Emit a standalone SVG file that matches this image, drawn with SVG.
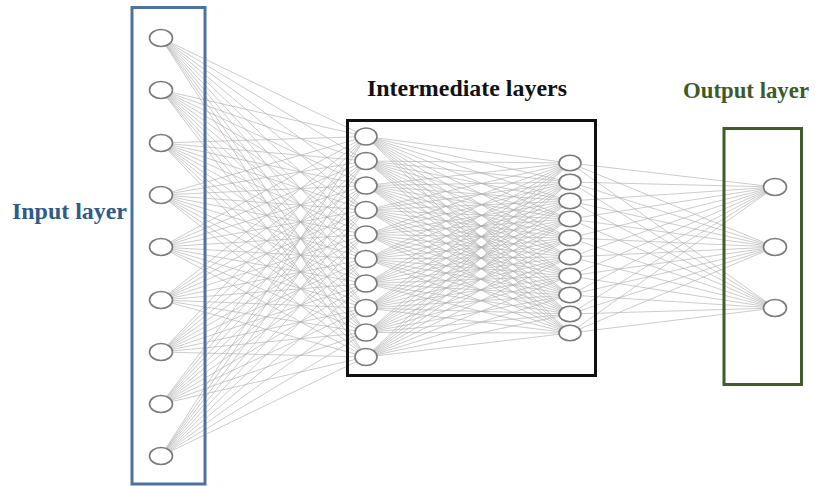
<svg xmlns="http://www.w3.org/2000/svg" width="817" height="486" viewBox="0 0 817 486">
<style>
.c{fill:none;stroke:#adadad;stroke-width:0.7;stroke-opacity:0.9}
.n{fill:#fff;stroke:#7a7a7a;stroke-width:1.6}
.t{font-family:"Liberation Serif","Times New Roman",serif;font-weight:bold;font-size:23px}
.box{fill:none;stroke-width:3}
</style>
<rect width="817" height="486" fill="#fff"/>
<g id="connectors">
<path class="c" d="M161 38L366 136.5M161 38L366 161M161 38L366 185.5M161 38L366 210M161 38L366 234.5M161 38L366 259M161 38L366 283.5M161 38L366 308M161 38L366 332.5M161 38L366 357"/>
<path class="c" d="M161 90L366 136.5M161 90L366 161M161 90L366 185.5M161 90L366 210M161 90L366 234.5M161 90L366 259M161 90L366 283.5M161 90L366 308M161 90L366 332.5M161 90L366 357"/>
<path class="c" d="M161 143L366 136.5M161 143L366 161M161 143L366 185.5M161 143L366 210M161 143L366 234.5M161 143L366 259M161 143L366 283.5M161 143L366 308M161 143L366 332.5M161 143L366 357"/>
<path class="c" d="M161 195L366 136.5M161 195L366 161M161 195L366 185.5M161 195L366 210M161 195L366 234.5M161 195L366 259M161 195L366 283.5M161 195L366 308M161 195L366 332.5M161 195L366 357"/>
<path class="c" d="M161 247L366 136.5M161 247L366 161M161 247L366 185.5M161 247L366 210M161 247L366 234.5M161 247L366 259M161 247L366 283.5M161 247L366 308M161 247L366 332.5M161 247L366 357"/>
<path class="c" d="M161 300L366 136.5M161 300L366 161M161 300L366 185.5M161 300L366 210M161 300L366 234.5M161 300L366 259M161 300L366 283.5M161 300L366 308M161 300L366 332.5M161 300L366 357"/>
<path class="c" d="M161 352L366 136.5M161 352L366 161M161 352L366 185.5M161 352L366 210M161 352L366 234.5M161 352L366 259M161 352L366 283.5M161 352L366 308M161 352L366 332.5M161 352L366 357"/>
<path class="c" d="M161 404L366 136.5M161 404L366 161M161 404L366 185.5M161 404L366 210M161 404L366 234.5M161 404L366 259M161 404L366 283.5M161 404L366 308M161 404L366 332.5M161 404L366 357"/>
<path class="c" d="M161 456L366 136.5M161 456L366 161M161 456L366 185.5M161 456L366 210M161 456L366 234.5M161 456L366 259M161 456L366 283.5M161 456L366 308M161 456L366 332.5M161 456L366 357"/>
<path class="c" d="M366 136.5L570 163M366 136.5L570 182M366 136.5L570 201M366 136.5L570 219M366 136.5L570 238M366 136.5L570 257M366 136.5L570 276M366 136.5L570 295M366 136.5L570 314M366 136.5L570 333"/>
<path class="c" d="M366 161L570 163M366 161L570 182M366 161L570 201M366 161L570 219M366 161L570 238M366 161L570 257M366 161L570 276M366 161L570 295M366 161L570 314M366 161L570 333"/>
<path class="c" d="M366 185.5L570 163M366 185.5L570 182M366 185.5L570 201M366 185.5L570 219M366 185.5L570 238M366 185.5L570 257M366 185.5L570 276M366 185.5L570 295M366 185.5L570 314M366 185.5L570 333"/>
<path class="c" d="M366 210L570 163M366 210L570 182M366 210L570 201M366 210L570 219M366 210L570 238M366 210L570 257M366 210L570 276M366 210L570 295M366 210L570 314M366 210L570 333"/>
<path class="c" d="M366 234.5L570 163M366 234.5L570 182M366 234.5L570 201M366 234.5L570 219M366 234.5L570 238M366 234.5L570 257M366 234.5L570 276M366 234.5L570 295M366 234.5L570 314M366 234.5L570 333"/>
<path class="c" d="M366 259L570 163M366 259L570 182M366 259L570 201M366 259L570 219M366 259L570 238M366 259L570 257M366 259L570 276M366 259L570 295M366 259L570 314M366 259L570 333"/>
<path class="c" d="M366 283.5L570 163M366 283.5L570 182M366 283.5L570 201M366 283.5L570 219M366 283.5L570 238M366 283.5L570 257M366 283.5L570 276M366 283.5L570 295M366 283.5L570 314M366 283.5L570 333"/>
<path class="c" d="M366 308L570 163M366 308L570 182M366 308L570 201M366 308L570 219M366 308L570 238M366 308L570 257M366 308L570 276M366 308L570 295M366 308L570 314M366 308L570 333"/>
<path class="c" d="M366 332.5L570 163M366 332.5L570 182M366 332.5L570 201M366 332.5L570 219M366 332.5L570 238M366 332.5L570 257M366 332.5L570 276M366 332.5L570 295M366 332.5L570 314M366 332.5L570 333"/>
<path class="c" d="M366 357L570 163M366 357L570 182M366 357L570 201M366 357L570 219M366 357L570 238M366 357L570 257M366 357L570 276M366 357L570 295M366 357L570 314M366 357L570 333"/>
<path class="c" d="M570 163L775 187M570 163L775 247M570 163L775 308M570 182L775 187M570 182L775 247M570 182L775 308M570 201L775 187M570 201L775 247M570 201L775 308M570 219L775 187M570 219L775 247M570 219L775 308M570 238L775 187M570 238L775 247M570 238L775 308"/>
<path class="c" d="M570 257L775 187M570 257L775 247M570 257L775 308M570 276L775 187M570 276L775 247M570 276L775 308M570 295L775 187M570 295L775 247M570 295L775 308M570 314L775 187M570 314L775 247M570 314L775 308M570 333L775 187M570 333L775 247M570 333L775 308"/>
</g>
<g id="input-layer">
<rect class="box" x="132" y="7.5" width="73" height="476.5" stroke="#4b72a0"/>
<text class="t" x="12" y="219" fill="#2f5b88" textLength="115" lengthAdjust="spacingAndGlyphs">Input layer</text>
</g>
<g id="intermediate-layers">
<rect class="box" x="347.5" y="120.5" width="248" height="255" stroke="#111"/>
<text class="t" x="367" y="96" fill="#111" textLength="200" lengthAdjust="spacingAndGlyphs">Intermediate layers</text>
</g>
<g id="output-layer">
<rect class="box" x="724" y="128.5" width="77.5" height="256" stroke="#3e5d28"/>
<text class="t" x="683" y="98" fill="#3e5a26" textLength="126" lengthAdjust="spacingAndGlyphs">Output layer</text>
</g>
<g id="in1"><ellipse class="n" cx="161" cy="38" rx="11.5" ry="8.5"/></g>
<g id="in2"><ellipse class="n" cx="161" cy="90" rx="11.5" ry="8.5"/></g>
<g id="in3"><ellipse class="n" cx="161" cy="143" rx="11.5" ry="8.5"/></g>
<g id="in4"><ellipse class="n" cx="161" cy="195" rx="11.5" ry="8.5"/></g>
<g id="in5"><ellipse class="n" cx="161" cy="247" rx="11.5" ry="8.5"/></g>
<g id="in6"><ellipse class="n" cx="161" cy="300" rx="11.5" ry="8.5"/></g>
<g id="in7"><ellipse class="n" cx="161" cy="352" rx="11.5" ry="8.5"/></g>
<g id="in8"><ellipse class="n" cx="161" cy="404" rx="11.5" ry="8.5"/></g>
<g id="in9"><ellipse class="n" cx="161" cy="456" rx="11.5" ry="8.5"/></g>
<g id="h1a"><ellipse class="n" cx="366" cy="136.5" rx="11" ry="8.5"/></g>
<g id="h1b"><ellipse class="n" cx="366" cy="161" rx="11" ry="8.5"/></g>
<g id="h1c"><ellipse class="n" cx="366" cy="185.5" rx="11" ry="8.5"/></g>
<g id="h1d"><ellipse class="n" cx="366" cy="210" rx="11" ry="8.5"/></g>
<g id="h1e"><ellipse class="n" cx="366" cy="234.5" rx="11" ry="8.5"/></g>
<g id="h1f"><ellipse class="n" cx="366" cy="259" rx="11" ry="8.5"/></g>
<g id="h1g"><ellipse class="n" cx="366" cy="283.5" rx="11" ry="8.5"/></g>
<g id="h1h"><ellipse class="n" cx="366" cy="308" rx="11" ry="8.5"/></g>
<g id="h1i"><ellipse class="n" cx="366" cy="332.5" rx="11" ry="8.5"/></g>
<g id="h1j"><ellipse class="n" cx="366" cy="357" rx="11" ry="8.5"/></g>
<g id="h2a"><ellipse class="n" cx="570" cy="163" rx="11" ry="7.8"/></g>
<g id="h2b"><ellipse class="n" cx="570" cy="182" rx="11" ry="7.8"/></g>
<g id="h2c"><ellipse class="n" cx="570" cy="201" rx="11" ry="7.8"/></g>
<g id="h2d"><ellipse class="n" cx="570" cy="219" rx="11" ry="7.8"/></g>
<g id="h2e"><ellipse class="n" cx="570" cy="238" rx="11" ry="7.8"/></g>
<g id="h2f"><ellipse class="n" cx="570" cy="257" rx="11" ry="7.8"/></g>
<g id="h2g"><ellipse class="n" cx="570" cy="276" rx="11" ry="7.8"/></g>
<g id="h2h"><ellipse class="n" cx="570" cy="295" rx="11" ry="7.8"/></g>
<g id="h2i"><ellipse class="n" cx="570" cy="314" rx="11" ry="7.8"/></g>
<g id="h2j"><ellipse class="n" cx="570" cy="333" rx="11" ry="7.8"/></g>
<g id="out1"><ellipse class="n" cx="775" cy="187" rx="11.5" ry="8.5"/></g>
<g id="out2"><ellipse class="n" cx="775" cy="247" rx="11.5" ry="8.5"/></g>
<g id="out3"><ellipse class="n" cx="775" cy="308" rx="11.5" ry="8.5"/></g>
</svg>
